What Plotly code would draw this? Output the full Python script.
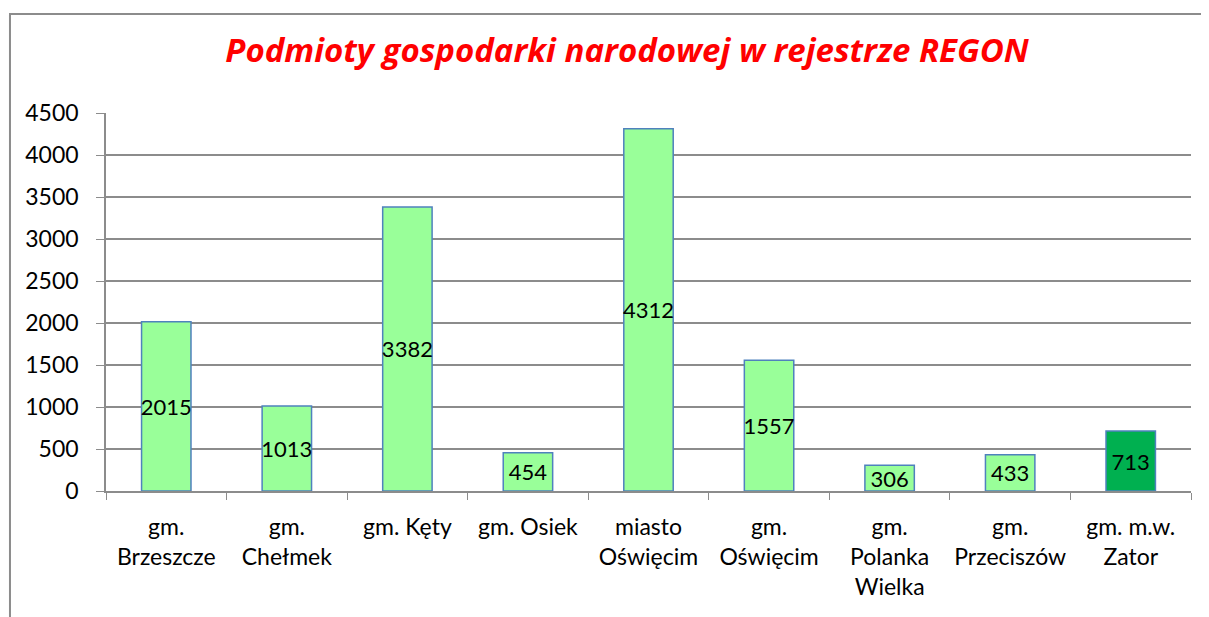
import plotly.graph_objects as go

# dane
gminy = ['gm.<br>Brzeszcze', 'gm.<br>Chełmek', 'gm. Kęty', 'gm. Osiek', 'miasto<br>Oświęcim',
         'gm.<br>Oświęcim', 'gm.<br>Polanka<br>Wielka', 'gm.<br>Przeciszów', 'gm. m.w.<br>Zator']
podmioty = [2015, 1013, 3382, 454, 4312, 1557, 306, 433, 713]
kolory = ['#99FF99'] * 8 + ['#00B050']

fig = go.Figure(go.Bar(
    x=gminy, y=podmioty,
    marker=dict(color=kolory, line=dict(color='#4F81BD', width=1.5)),
    text=podmioty, textposition='inside', insidetextanchor='middle',
    textfont=dict(family='Lato', size=22, color='black'),
    textangle=0, constraintext='none',
))

fig.update_layout(
    width=1209, height=617,
    margin=dict(l=98, r=26, t=105, b=134, autoexpand=False),
    paper_bgcolor='white', plot_bgcolor='white',
    font=dict(family='Lato', size=23, color='black'),
    bargap=0.59,
    showlegend=False,
    uniformtext=dict(minsize=22, mode='show'),
    title=dict(text='<b><i>Podmioty gospodarki narodowej w rejestrze REGON</i></b>',
               x=619 / 1209, xanchor='center', y=1 - 42 / 617, yanchor='middle',
               font=dict(family='Open Sans', size=33, color='#FF0000')),
)
fig.update_yaxes(range=[0, 4500], dtick=500, showgrid=True, gridcolor='#8C8C8C', gridwidth=1.5,
                 showline=True, linecolor='#8C8C8C', linewidth=1.5,
                 ticks='outside', ticklen=8, tickcolor='#8C8C8C', ticklabelstandoff=13,
                 zeroline=False)
fig.update_xaxes(showline=True, linecolor='#8C8C8C', linewidth=1.5, tickson='boundaries',
                 ticks='outside', ticklen=7, tickcolor='#8C8C8C', showgrid=False, tickangle=0,
                 ticklabelstandoff=15)

# ramka wykresu
fig.add_shape(type='rect', xref='paper', yref='paper', x0=-0.0885, y0=-0.4, x1=1.05, y1=1.2619,
              line=dict(color='#8C8C8C', width=2), fillcolor='rgba(0,0,0,0)', layer='below')

fig.write_html('out.html')
